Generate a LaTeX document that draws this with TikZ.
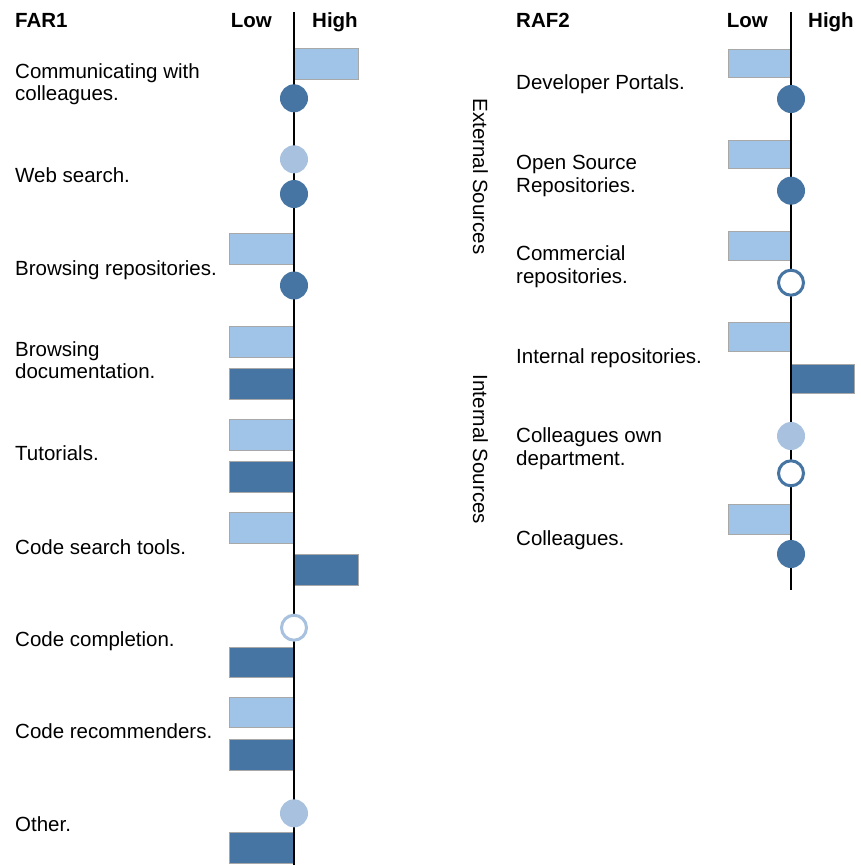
\documentclass[tikz,border=0pt]{standalone}
\usepackage{fontspec}
\setmainfont{Liberation Sans}
\definecolor{barlight}{HTML}{A0C3E8}
\definecolor{dotlight}{HTML}{A7C1DF}
\definecolor{bardark}{HTML}{4675A3}
\definecolor{barline}{HTML}{A8A8A8}
\begin{document}
\begin{tikzpicture}[x=1pt,y=-1pt,
  lightbar/.style={fill=barlight,draw=barline,line width=0.8pt},
  darkbar/.style={fill=bardark,draw=barline,line width=0.8pt},
  lightdot/.style={fill=dotlight},
  darkdot/.style={fill=bardark},
  lightring/.style={fill=white,draw=dotlight,line width=3pt},
  darkring/.style={fill=white,draw=bardark,line width=3pt},
  axisline/.style={draw=black,line width=1.4pt},
  label/.style={anchor=base west,align=left,inner sep=0pt,
    font=\fontsize{20.5}{22.5}\selectfont},
  head/.style={inner sep=0pt,font=\fontsize{20.5}{22.5}\selectfont\bfseries},
  side/.style={inner sep=0pt,rotate=-90,font=\fontsize{20.5}{22.5}\selectfont}]
\useasboundingbox (0,0) rectangle (860,865);

% ---------- FAR1 ----------
% (labels are placed by the baseline of their last line)
\node[head,anchor=base west] (far) at (15,27) {FAR1};
\node[head,anchor=base east] (lowA) at (272,27) {Low};
\node[head,anchor=base west] (highA) at (312,27) {High};

\node[label] (a1) at (15,100.5) {Communicating with\\colleagues.};
\node[label] (a2) at (15,182) {Web search.};
\node[label] (a3) at (15,275) {Browsing repositories.};
\node[label] (a4) at (15,378.5) {Browsing\\documentation.};
\node[label] (a5) at (15,460) {Tutorials.};
\node[label] (a6) at (15,554) {Code search tools.};
\node[label] (a7) at (15,646) {Code completion.};
\node[label] (a8) at (15,738) {Code recommenders.};
\node[label] (a9) at (15,831) {Other.};

% bars
\draw[lightbar] (294,48.3) rectangle (358.3,79.3);
\draw[lightbar] (229.3,233.3) rectangle (294,264);
\draw[lightbar] (229.3,326.7) rectangle (294,357);
\draw[darkbar]  (229.3,368.7) rectangle (294,399.3);
\draw[lightbar] (229.3,419.3) rectangle (294,450.3);
\draw[darkbar]  (229.3,461.7) rectangle (294,492);
\draw[lightbar] (229.3,512.7) rectangle (294,543.3);
\draw[darkbar]  (294,554.3) rectangle (358.3,585);
\draw[darkbar]  (229.3,647.3) rectangle (294,677.7);
\draw[lightbar] (229.3,697.3) rectangle (294,727.7);
\draw[darkbar]  (229.3,739.7) rectangle (294,770);
\draw[darkbar]  (229.3,832.3) rectangle (294,863.3);

% axis
\coordinate (axAtop) at (294,12);
\coordinate (axAbot) at (294,865);
\draw[axisline] (axAtop) -- (axAbot);

% dots
\fill[darkdot]  (294,98.3) circle[radius=14pt];
\fill[lightdot] (294,159.3) circle[radius=14pt];
\fill[darkdot]  (294,194) circle[radius=14pt];
\fill[darkdot]  (294,285.5) circle[radius=14pt];
\draw[lightring] (294,627.7) circle[radius=12.5pt];
\fill[lightdot] (294,813.3) circle[radius=14pt];

% ---------- RAF2 ----------
\node[head,anchor=base west] (raf) at (516,27) {RAF2};
\node[head,anchor=base east] (lowB) at (768,27) {Low};
\node[head,anchor=base west] (highB) at (808,27) {High};

\node[side] (ext) at (480.5,176.5) {External Sources};
\node[side] (int) at (480.5,449.5) {Internal Sources};

\node[label] (b1) at (516,89.3) {Developer Portals.};
\node[label] (b2) at (516,192) {Open Source\\Repositories.};
\node[label] (b3) at (516,283) {Commercial\\repositories.};
\node[label] (b4) at (516,363.3) {Internal repositories.};
\node[label] (b5) at (516,465) {Colleagues own\\department.};
\node[label] (b6) at (516,545) {Colleagues.};

% bars
\draw[lightbar] (728.3,49) rectangle (791,77.7);
\draw[lightbar] (728.3,140) rectangle (791,168.3);
\draw[lightbar] (728.3,231) rectangle (791,260);
\draw[lightbar] (728.3,322.3) rectangle (791,351.3);
\draw[darkbar]  (791,364.3) rectangle (854.3,393.3);
\draw[lightbar] (728.3,504.3) rectangle (791,534);

% axis
\coordinate (axBtop) at (791,12);
\coordinate (axBbot) at (791,590);
\draw[axisline] (axBtop) -- (axBbot);

% dots
\fill[darkdot]  (791,99) circle[radius=14pt];
\fill[darkdot]  (791,190.7) circle[radius=14pt];
\draw[darkring] (791,282.7) circle[radius=12.5pt];
\fill[lightdot] (791,436) circle[radius=14pt];
\draw[darkring] (791,473.3) circle[radius=12.5pt];
\fill[darkdot]  (791,554) circle[radius=14pt];
\end{tikzpicture}
\end{document}
